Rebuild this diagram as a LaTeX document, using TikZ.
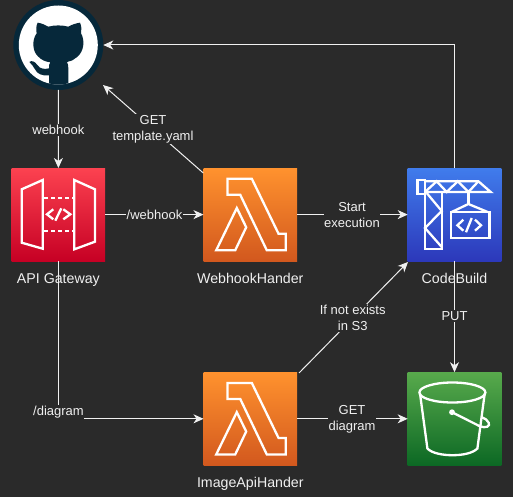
\documentclass[tikz,border=0pt]{standalone}
\usepackage{fontspec}
\setmainfont{Liberation Sans}
\usetikzlibrary{arrows.meta}
\definecolor{bgc}{HTML}{2A2A2A}
\definecolor{linec}{HTML}{F0F0F0}
\definecolor{ghdark}{HTML}{06283A}
\definecolor{lamtop}{RGB}{255,146,46}
\definecolor{lambot}{RGB}{210,88,30}
\definecolor{apitop}{RGB}{252,66,80}
\definecolor{apibot}{RGB}{198,0,36}
\definecolor{cbtop}{RGB}{64,124,236}
\definecolor{cbbot}{RGB}{44,56,186}
\definecolor{stop}{RGB}{88,170,76}
\definecolor{sbot}{RGB}{12,104,36}
\tikzset{
 x=1pt,y=-1pt,
 svcbox/.style={rectangle,minimum width=93.6pt,minimum height=93.2pt,inner sep=0pt,outer sep=0pt,draw=none},
 lambdabox/.style={svcbox,top color=lamtop,bottom color=lambot},
 apibox/.style={svcbox,top color=apitop,bottom color=apibot},
 cbbox/.style={svcbox,top color=cbtop,bottom color=cbbot},
 sbox/.style={svcbox,top color=stop,bottom color=sbot},
 icon/.style={draw=white,line width=2.3pt,line join=miter},
 conn/.style={draw=linec,line width=1pt,-{Stealth[length=10pt,width=9pt,inset=3pt]}},
 lbl/.style={font=\fontsize{13}{16}\selectfont,text=linec,fill=bgc,inner xsep=0.5pt,inner ysep=1.5pt,align=center},
 namelbl/.style={font=\fontsize{14.2}{16}\selectfont,text=linec,inner sep=0pt,anchor=base},
}
\newcommand{\lambdaicon}[1]{%
 \begin{scope}[shift={(#1.north west)}]
  \draw[icon] (24,10.7)--(48.3,10.7)--(75,65.7)--(82.3,65.7)--(82.3,82.3)--(63.3,82.3)--(36.7,26.7)--(24,26.7)--cycle;
  \draw[icon] (33.3,40)--(42.7,59.3)--(31.7,82.3)--(12.7,82.3)--cycle;
 \end{scope}}
\begin{document}
\begin{tikzpicture}
\fill[bgc] (0,0) rectangle (513,497);
\useasboundingbox (0,0) rectangle (513,497);
% nodes
\node[circle,minimum size=90pt,inner sep=0pt,outer sep=0pt,fill=ghdark] (gh) at (58.3,45) {};
\node[apibox] (api) at (58.4,214.6) {};
\node[lambdabox] (wh) at (250.3,214.6) {};
\node[cbbox] (cb) at (454.5,214.6) {};
\node[lambdabox] (img) at (250.3,418.8) {};
\node[sbox] (s3) at (454.5,418.8) {};
\coordinate (getend) at (103,85);
\coordinate (getstart) at (203.3,173);
\coordinate (imgstart) at (299,373);
\coordinate (cbin) at (408,262);
\coordinate (corner) at (cb.north |- gh.east);
\coordinate (lowcorner) at (api.south |- img.west);
% connectors
\draw[conn] (gh.south) -- (api.north);
\draw[conn] (api.east) -- (wh.west);
\draw[conn] (wh.east) -- (cb.west);
\draw[conn] (img.east) -- (s3.west);
\draw[conn] (cb.south) -- (s3.north);
\draw[conn] (getstart) -- (getend);
\draw[conn] (imgstart) -- (cbin);
\draw[conn] (cb.north) -- (corner) -- (gh.east);
\draw[conn] (api.south) -- (lowcorner) -- (img.west);
% labels
\node[lbl] (l1) at (58.4,130) {webhook};
\node[lbl] (l2) at (154.5,214.5) {/webhook};
\node[lbl] (l3) at (153,129) {GET\\template.yaml};
\node[lbl] (l4) at (352,215) {Start\\execution};
\node[lbl] (l5) at (352.7,318) {If not exists\\in S3};
\node[lbl] (l6) at (454.5,316) {PUT};
\node[lbl] (l7) at (58.5,412.5) {/diagram};
\node[lbl] (l8) at (352,419) {GET\\diagram};
\node[namelbl] (n1) at (58.4,283) {API Gateway};
\node[namelbl] (n2) at (250.3,283) {WebhookHander};
\node[namelbl] (n3) at (454.5,283) {CodeBuild};
\node[namelbl] (n4) at (250.3,487) {ImageApiHander};
% github
\fill[white] (gh.center) circle (39.5);
\begin{scope}
 \clip (gh.center) circle (39.5);
 \begin{scope}[scale=1/3]
 \fill[ghdark] (113,68) .. controls (125,70) and (135,74) .. (145,80)
  .. controls (165,75) and (185,75) .. (205,80)
  .. controls (215,74) and (228,70) .. (240,68)
  .. controls (245,80) and (245,90) .. (243,100)
  .. controls (255,120) and (253,155) .. (230,172)
  .. controls (222,180) and (212,184) .. (201,186)
  .. controls (205,192) and (205,200) .. (205,208)
  -- (205,275) -- (147,275) -- (147,226)
  .. controls (125,228) and (112,222) .. (105,208)
  .. controls (100,198) and (94,192) .. (88,186)
  .. controls (95,180) and (105,185) .. (112,195)
  .. controls (120,208) and (135,208) .. (147,205)
  .. controls (146,198) and (147,192) .. (151,187)
  .. controls (135,185) and (125,180) .. (115,170)
  .. controls (97,155) and (95,120) .. (110,100)
  .. controls (108,90) and (108,78) .. (113,68) -- cycle;
 \end{scope}
\end{scope}
% api gateway icon
\draw[icon] (21.7,189.3)--(42.7,180)--(42.7,248.7)--(21.7,242.7)--cycle;
\draw[icon] (74.3,180)--(95,189.3)--(95,241.7)--(74.3,249.3)--cycle;
\draw[icon,dash pattern=on 4pt off 3pt] (44,198.3)--(74,198.3);
\draw[icon,dash pattern=on 4pt off 3pt] (44,231)--(74,231);
\draw[icon] (53.3,209.3)--(47,214.3)--(53.3,219.3);
\draw[icon] (63.3,209.3)--(70.3,214.3)--(63.3,219.3);
\draw[icon] (61.3,208.3)--(55.3,220.7);
% lambdas
\lambdaicon{wh}
\lambdaicon{img}
% codebuild icon
\begin{scope}[shift={(cb.north west)}]
 \draw[icon] (9.7,11.7) rectangle (17.3,26);
 \draw[icon] (17.3,13.3)--(70.7,13.3)--(83,24)--(17.3,24);
 \draw[icon] (17.3,24)--(29,13.3)--(39,24)--(50,13.3)--(60.7,24)--(70.7,13.3);
 \draw[icon] (17.3,24)--(17.3,81)--(34,81)--(34,24);
 \draw[icon] (19,25)--(34,43)--(17.3,60)--(34,79);
 \draw[icon] (60.7,24)--(60.7,36);
 \draw[icon] (44,44)--(60.7,36)--(80,44);
 \draw[icon] (43,44) rectangle (81.7,70);
 \draw[icon] (55.7,51.7)--(49.7,57.3)--(55.7,62.7);
 \draw[icon] (67.3,51.7)--(73.3,57.3)--(67.3,62.7);
 \draw[icon] (64,50)--(58.3,64.3);
\end{scope}
% s3 icon
\begin{scope}[shift={(s3.north west)}]
 \draw[icon] (44.7,20.3) ellipse (33 and 10);
 \draw[icon] (12.3,21.3)--(19.7,76.3) .. controls (24,81) and (35,83) .. (44.7,83) .. controls (55,83) and (65,81) .. (69.7,76.3)--(77,21.3);
 \fill[white] (44.3,40) circle (2.9);
 \draw[icon] (44.3,40)--(72,54) .. controls (78,56.5) and (83,54) .. (81,50.5) .. controls (80,48) and (77,46) .. (74,45);
\end{scope}
\end{tikzpicture}
\end{document}
